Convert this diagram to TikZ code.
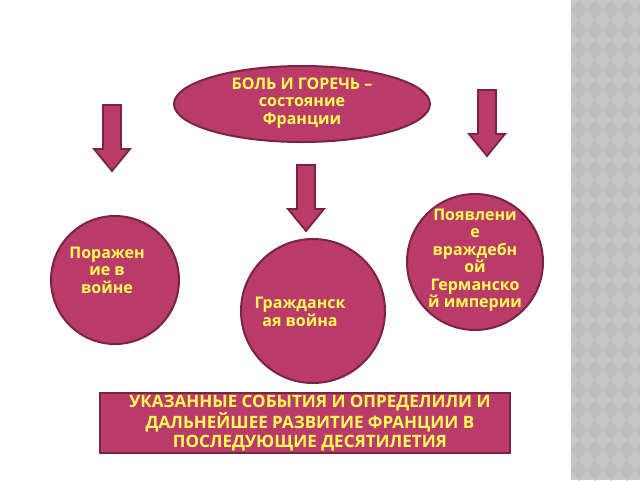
\documentclass[tikz,border=0pt]{standalone}
\usepackage{fontspec}
\setmainfont{Open Sans}
\usetikzlibrary{shapes.geometric}
\definecolor{fillc}{HTML}{BA3B6A}
\definecolor{edgec}{HTML}{7A2442}
\definecolor{txt}{HTML}{FFFF55}
\tikzset{
  shp/.style={fill=fillc,draw=edgec,line width=2pt},
  lbl/.style={text=txt,font=\bfseries\fontsize{16}{17.5}\selectfont,align=center,inner sep=0pt},
  arrowshape/.style={fill=fillc,draw=edgec,line width=1.8pt,line join=miter},
  downarrow/.pic={\draw[arrowshape] (-9,0) -- (9,0) -- (9,44) -- (18,44) -- (0,66) -- (-18,44) -- (-9,44) -- cycle;}
}
\begin{document}
\begin{tikzpicture}[x=1pt,y=-1pt]
\useasboundingbox (0,0) rectangle (640,480);
\fill[white] (0,0) rectangle (571,480);
\fill[gray!45] (571,0) rectangle (640,480);
\foreach \i in {0,...,24}{\foreach \j in {0,...,4}{
  \fill[gray!52] ({571+\j*16},{\i*20+10}) -- ++(8,-10) -- ++(8,10) -- ++(-8,10) -- cycle;}}
\node[shp,ellipse,minimum width=256pt,minimum height=76pt] (top) at (302,104) {};
\node[lbl] (toptext) at (302,103) {БОЛЬ И ГОРЕЧЬ –\\состояние\\Франции};
\pic at (112,105) {downarrow};
\pic at (306,165) {downarrow};
\pic at (487,90) {downarrow};
\node[shp,circle,minimum size=128pt,inner sep=0pt] (c1) at (115,280) {};
\node[lbl] (t1) at (107,270) {Поражен\\ие в\\войне\hspace{2em}};
\node[shp,circle,minimum size=144pt,inner sep=0pt] (c2) at (313,311) {};
\node[lbl] (t2) at (300,312) {Гражданск\\ая война};
\node[shp,circle,minimum size=136pt,inner sep=0pt] (c3) at (475,262) {};
\node[lbl] (t3) at (475,260) {Появлени\\е\\враждебн\\ой\\Германско\\й империи};
\node[shp,rectangle,minimum width=410pt,minimum height=60pt,line width=1.5pt] (bot) at (305,423) {};
\node[lbl,font=\bfseries\fontsize{17}{19}\selectfont] (bottext) at (310,423) {УКАЗАННЫЕ СОБЫТИЯ И ОПРЕДЕЛИЛИ И\\ДАЛЬНЕЙШЕЕ РАЗВИТИЕ ФРАНЦИИ В\\ПОСЛЕДУЮЩИЕ ДЕСЯТИЛЕТИЯ};
\end{tikzpicture}
\end{document}
